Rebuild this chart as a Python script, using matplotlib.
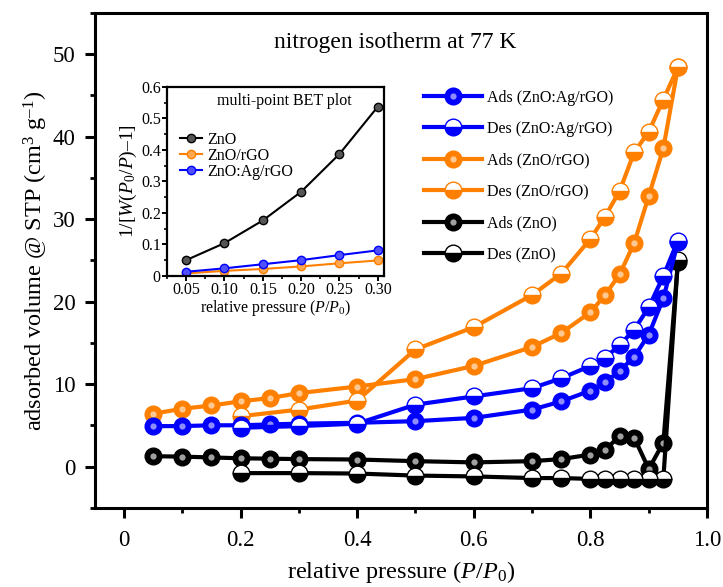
import matplotlib
matplotlib.use("Agg")
import matplotlib.pyplot as plt
from matplotlib.legend_handler import HandlerTuple
from matplotlib.ticker import MultipleLocator

plt.rcParams["font.family"] = ["Liberation Serif", "DejaVu Serif"]
plt.rcParams["mathtext.fontset"] = "custom"
plt.rcParams["mathtext.rm"] = "Liberation Serif"
plt.rcParams["mathtext.it"] = "Liberation Serif:italic"

# ---- main isotherm data (relative pressure, adsorbed volume) ----
p_ads = [0.05, 0.10, 0.15, 0.20, 0.25, 0.30, 0.40, 0.50, 0.60, 0.70,
         0.75, 0.80, 0.825, 0.85, 0.875, 0.90, 0.925, 0.95]
p_des = [0.95, 0.925, 0.90, 0.875, 0.85, 0.825, 0.80, 0.75, 0.70,
         0.60, 0.50, 0.40, 0.30, 0.20]

agrgo_ads = [4.9, 4.9, 5.0, 5.0, 5.1, 5.2, 5.3, 5.5, 5.9, 6.9,
             7.9, 9.2, 10.2, 11.6, 13.3, 16.0, 20.4, 27.2]
agrgo_des = [27.4, 23.1, 19.3, 16.6, 14.7, 13.2, 12.2, 10.7, 9.5,
             8.5, 7.5, 5.2, 4.9, 4.7]

rgo_ads = [6.4, 7.0, 7.4, 7.9, 8.3, 8.9, 9.7, 10.6, 12.2, 14.5,
           16.2, 18.7, 20.8, 23.3, 27.1, 32.8, 38.6, 48.4]
rgo_des = [48.4, 44.5, 40.6, 38.1, 33.4, 30.3, 27.6, 23.4, 20.8,
           16.9, 14.2, 8.0, 6.9, 6.1]

zno_ads = [1.25, 1.2, 1.1, 1.0, 0.95, 0.9, 0.85, 0.65, 0.5, 0.65,
           0.9, 1.45, 2.0, 3.7, 3.5, -0.3, 2.9, 24.8]
zno_des = [25.0, -1.5, -1.5, -1.5, -1.5, -1.5, -1.5, -1.4, -1.4,
           -1.2, -1.1, -0.85, -0.8, -0.8]

# ---- inset BET data ----
bet_p = [0.05, 0.10, 0.15, 0.20, 0.25, 0.30]
bet_zno = [0.050, 0.104, 0.176, 0.267, 0.387, 0.537]
bet_rgo = [0.008, 0.016, 0.022, 0.030, 0.040, 0.049]
bet_agrgo = [0.013, 0.024, 0.037, 0.050, 0.066, 0.081]

BLUE = "#0000ff"
ORANGE = "#ff8000"
BLACK = "#000000"
HILITE = {BLUE: "#8c8cff", ORANGE: "#ffc890", BLACK: "#a0a0a0"}

fig = plt.figure(figsize=(7.23, 5.87), dpi=100)
ax = fig.add_axes([0.131, 0.135, 0.847, 0.843])

handles, labels = [], []


def series(x, y, color, ads):
    if ads:
        ln, = ax.plot(x, y, "-o", color=color, lw=3, ms=12, mfc=color,
                      mec=color, mew=1)
        hl, = ax.plot(x, y, "o", ls="none", ms=4.5, mfc=HILITE[color],
                      mec="none")
        return (ln, hl)
    ln, = ax.plot(x, y, "-o", color=color, lw=3, ms=12, mfc=color,
                  mfcalt="white", fillstyle="bottom", mec=color, mew=1)
    return ln


for col, ads, des, name in [(BLACK, zno_ads, zno_des, "ZnO"),
                            (ORANGE, rgo_ads, rgo_des, "ZnO/rGO"),
                            (BLUE, agrgo_ads, agrgo_des, "ZnO:Ag/rGO")]:
    h_a = series(p_ads, ads, col, True)
    h_d = series(p_des, des, col, False)
    handles = [h_a, h_d] + handles
    labels = [f"Ads ({name})", f"Des ({name})"] + labels

ax.set_xlim(-0.05, 1.0)
ax.set_ylim(-5, 55)
ax.set_xticks([0, 0.2, 0.4, 0.6, 0.8, 1.0])
ax.set_xticklabels(["0", "0.2", "0.4", "0.6", "0.8", "1.0"])
ax.xaxis.set_minor_locator(MultipleLocator(0.1))
ax.set_yticks([0, 10, 20, 30, 40, 50])
ax.yaxis.set_minor_locator(MultipleLocator(5))
ax.tick_params(which="major", direction="out", length=7, width=2.2,
               labelsize=16.5)
ax.tick_params(axis="x", which="major", pad=9)
ax.tick_params(axis="y", which="major", pad=7)
ax.tick_params(which="minor", direction="out", length=3.5, width=2)
for s in ax.spines.values():
    s.set_linewidth(2.2)
ax.set_xlabel("relative pressure ($P$/$P_0$)", fontsize=17.5, labelpad=6)
ax.set_ylabel("adsorbed volume @ STP (cm$^3$ g$^{\u2013 1}$)", fontsize=17.5,
              labelpad=2)
ax.text(0.49, 0.941, "nitrogen isotherm at 77 K", transform=ax.transAxes,
        ha="center", va="center", fontsize=17)

ax.legend(handles, labels, loc="upper left", bbox_to_anchor=(0.528, 0.858),
          frameon=False, fontsize=11.5, handlelength=3.6, handletextpad=0.3,
          labelspacing=0.97, borderaxespad=0,
          handler_map={tuple: HandlerTuple(ndivide=1)})

# ---- inset ----
ins = fig.add_axes([0.231, 0.530, 0.300, 0.322])
ins.plot(bet_p, bet_zno, "-o", color=BLACK, lw=1.5, ms=6, mfc="#555555",
         mec=BLACK, label="ZnO")
ins.plot(bet_p, bet_rgo, "-o", color=ORANGE, lw=1.5, ms=6, mfc="#ffa850",
         mec=ORANGE, label="ZnO/rGO")
ins.plot(bet_p, bet_agrgo, "-o", color=BLUE, lw=1.5, ms=6, mfc="#5050ff",
         mec=BLUE, label="ZnO:Ag/rGO")
ins.set_xlim(0.025, 0.308)
ins.set_ylim(0, 0.6)
ins.set_xticks(bet_p)
ins.set_xticklabels(["0.05", "0.10", "0.15", "0.20", "0.25", "0.30"])
ins.xaxis.set_minor_locator(MultipleLocator(0.025))
ins.set_yticks([0, 0.1, 0.2, 0.3, 0.4, 0.5, 0.6])
ins.set_yticklabels(["0", "0.1", "0.2", "0.3", "0.4", "0.5", "0.6"])
ins.yaxis.set_minor_locator(MultipleLocator(0.05))
ins.tick_params(which="major", direction="out", length=3.5, width=1.4,
                labelsize=11.5, pad=1)
ins.tick_params(which="minor", direction="out", length=2.2, width=1.2)
for s in ins.spines.values():
    s.set_linewidth(1.6)
ins.set_xlabel("relative pressure ($P$/$P_0$)", fontsize=11.5, labelpad=0)
ins.set_ylabel("1/[$W$($P_0$/$P$)\u20131]", fontsize=14, labelpad=1)
ins.text(0.54, 0.925, "multi-point BET plot", transform=ins.transAxes,
         ha="center", va="center", fontsize=11.5)
ins.legend(loc="upper left", bbox_to_anchor=(0.03, 0.795), frameon=False,
           fontsize=11.5, handlelength=1.4, handletextpad=0.3,
           labelspacing=0.0, borderaxespad=0)

fig.savefig("out.png", dpi=100)
